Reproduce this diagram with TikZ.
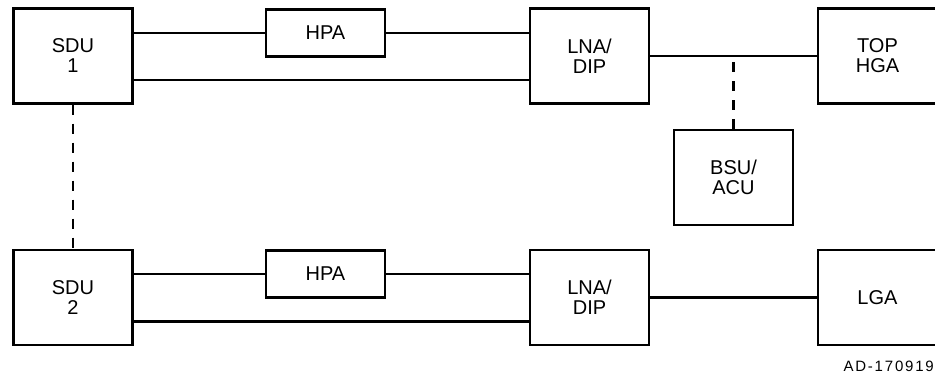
\documentclass[tikz,border=0pt]{standalone}
\usepackage{fontspec}
\setmainfont{Liberation Sans}
\usetikzlibrary{positioning}

\begin{document}
\begin{tikzpicture}[
  x=1pt, y=-1pt,
  every node/.style={font=\fontsize{20}{20}\selectfont},
  unit/.style={draw, line width=2.2pt, minimum width=119pt, minimum height=95pt,
               inner sep=0pt, align=center},
  amp/.style={unit, minimum height=47pt},
  link/.style={line width=2.2pt},
  ctrl/.style={line width=2.2pt, dash pattern=on 10pt off 9pt},
]
\useasboundingbox (0,0) rectangle (935,374);

% upper chain
\node[unit] (sdu1) at (73,56)    {SDU\\1};
\node[amp]  (hpa1) at (325.5,33) {HPA};
\node[unit] (lna1) at (589.5,56) {LNA/\\DIP};
\node[unit] (hga)  at (877.5,56) {TOP\\HGA};
\node[unit] (bsu)  at (733.5,177.5) {BSU/\\ACU};

% lower chain
\node[unit] (sdu2) at (73,297.5)    {SDU\\2};
\node[amp]  (hpa2) at (325.5,274)   {HPA};
\node[unit] (lna2) at (589.5,297.5) {LNA/\\DIP};
\node[unit] (lga)  at (877.5,297.5) {LGA};

\draw[link] (hpa1.west) -- (hpa1.west -| sdu1.east);
\draw[link] (hpa1.east) -- (hpa1.east -| lna1.west);
\draw[link] ([yshift=-24pt]sdu1.east) -- ([yshift=-24pt]sdu1.east -| lna1.west);
\draw[link] (lna1.east) -- (hga.west);
\draw[ctrl] (bsu.north) -- (bsu.north |- lna1.east);

\draw[link] (hpa2.west) -- (hpa2.west -| sdu2.east);
\draw[link] (hpa2.east) -- (hpa2.east -| lna2.west);
\draw[link] ([yshift=-24pt]sdu2.east) -- ([yshift=-24pt]sdu2.east -| lna2.west);
\draw[link] (lna2.east) -- (lga.west);

\draw[ctrl] (sdu1.south) -- (sdu2.north);

\node[font=\fontsize{15}{15}\selectfont\addfontfeatures{LetterSpace=12}, anchor=east,
      inner sep=0pt] (tag) at (934,366) {AD-170919};
\end{tikzpicture}
\end{document}
